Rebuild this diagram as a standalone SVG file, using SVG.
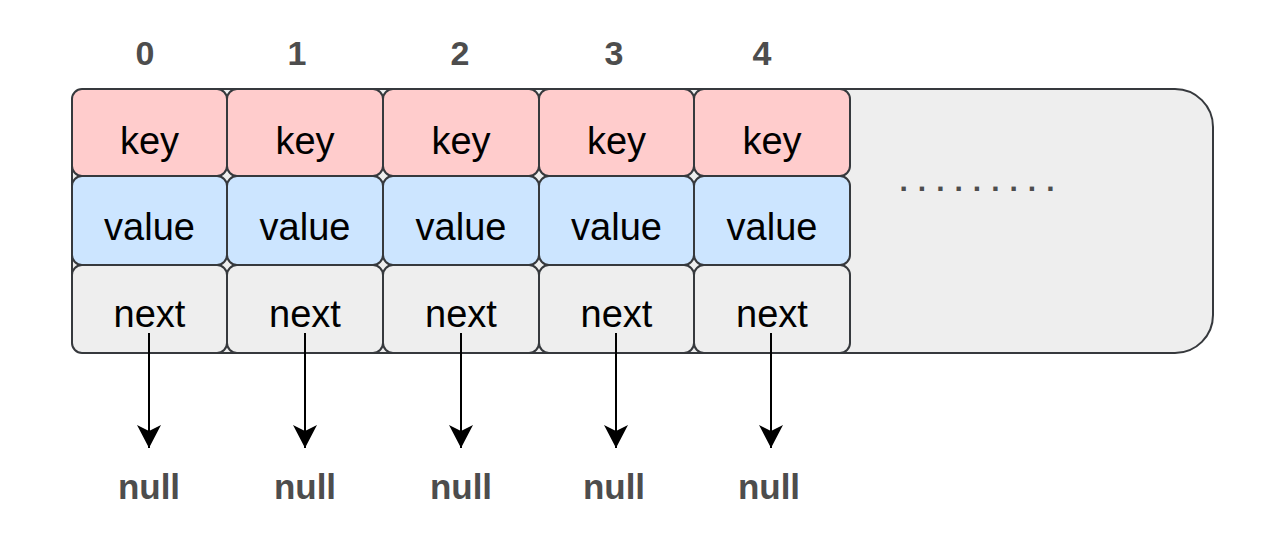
<svg xmlns="http://www.w3.org/2000/svg" width="1279" height="547" viewBox="0 0 1279 547">
<defs>
<style>
.cell{stroke:#36393d;stroke-width:2}
.k{fill:#ffcccc}.v{fill:#cce5ff}.n{fill:#eeeeee}
.t{font-family:"Liberation Sans",Arial,sans-serif;font-size:38px;fill:#000;text-anchor:middle}
.idx{font-family:"Liberation Sans",Arial,sans-serif;font-size:34px;font-weight:bold;fill:#4d4d4d;text-anchor:middle}
.nul{font-family:"Liberation Sans",Arial,sans-serif;font-size:35px;font-weight:bold;fill:#4d4d4d;text-anchor:middle}
.ln{stroke:#000;stroke-width:2;fill:none}
</style>
<marker id="ah" markerWidth="24" markerHeight="24" viewBox="0 0 24 24" refX="23" refY="12" orient="auto" markerUnits="userSpaceOnUse">
<path d="M0 0 L23 12 L0 24 L6 12 Z" fill="#000"/>
</marker>
</defs>
<rect width="1279" height="547" fill="#ffffff"/>
<g id="container">
<rect x="72" y="89" width="1141" height="264" rx="38" ry="38" fill="#eeeeee" stroke="#36393d" stroke-width="2"/>
<text x="982" y="191" font-family="Liberation Sans,Arial,sans-serif" font-size="30" font-weight="bold" fill="#4d4d4d" text-anchor="middle" letter-spacing="10">.........</text>
</g>
<g id="indices">
<text class="idx" x="145" y="65">0</text>
<text class="idx" x="297" y="65">1</text>
<text class="idx" x="460" y="65">2</text>
<text class="idx" x="614" y="65">3</text>
<text class="idx" x="762" y="65">4</text>
</g>
<g id="bucket0">
<rect class="cell k" x="72" y="89" width="155" height="87" rx="10"/>
<rect class="cell v" x="72" y="176" width="155" height="89" rx="10"/>
<rect class="cell n" x="72" y="265" width="155" height="88" rx="10"/>
<text class="t" x="149.5" y="154">key</text>
<text class="t" x="149.5" y="240">value</text>
<text class="t" x="149.5" y="327">next</text>
</g>
<g id="bucket1">
<rect class="cell k" x="227" y="89" width="156" height="87" rx="10"/>
<rect class="cell v" x="227" y="176" width="156" height="89" rx="10"/>
<rect class="cell n" x="227" y="265" width="156" height="88" rx="10"/>
<text class="t" x="305" y="154">key</text>
<text class="t" x="305" y="240">value</text>
<text class="t" x="305" y="327">next</text>
</g>
<g id="bucket2">
<rect class="cell k" x="383" y="89" width="156" height="87" rx="10"/>
<rect class="cell v" x="383" y="176" width="156" height="89" rx="10"/>
<rect class="cell n" x="383" y="265" width="156" height="88" rx="10"/>
<text class="t" x="461" y="154">key</text>
<text class="t" x="461" y="240">value</text>
<text class="t" x="461" y="327">next</text>
</g>
<g id="bucket3">
<rect class="cell k" x="539" y="89" width="155" height="87" rx="10"/>
<rect class="cell v" x="539" y="176" width="155" height="89" rx="10"/>
<rect class="cell n" x="539" y="265" width="155" height="88" rx="10"/>
<text class="t" x="616.5" y="154">key</text>
<text class="t" x="616.5" y="240">value</text>
<text class="t" x="616.5" y="327">next</text>
</g>
<g id="bucket4">
<rect class="cell k" x="694" y="89" width="156" height="87" rx="10"/>
<rect class="cell v" x="694" y="176" width="156" height="89" rx="10"/>
<rect class="cell n" x="694" y="265" width="156" height="88" rx="10"/>
<text class="t" x="772" y="154">key</text>
<text class="t" x="772" y="240">value</text>
<text class="t" x="772" y="327">next</text>
</g>
<g id="connectors">
<line class="ln" x1="149" y1="333" x2="149" y2="448" marker-end="url(#ah)"/>
<line class="ln" x1="305" y1="333" x2="305" y2="448" marker-end="url(#ah)"/>
<line class="ln" x1="461" y1="333" x2="461" y2="448" marker-end="url(#ah)"/>
<line class="ln" x1="616" y1="333" x2="616" y2="448" marker-end="url(#ah)"/>
<line class="ln" x1="771" y1="333" x2="771" y2="448" marker-end="url(#ah)"/>
</g>
<g id="nulls">
<text class="nul" x="149" y="499">null</text>
<text class="nul" x="305" y="499">null</text>
<text class="nul" x="461" y="499">null</text>
<text class="nul" x="614" y="499">null</text>
<text class="nul" x="769" y="499">null</text>
</g>
</svg>
